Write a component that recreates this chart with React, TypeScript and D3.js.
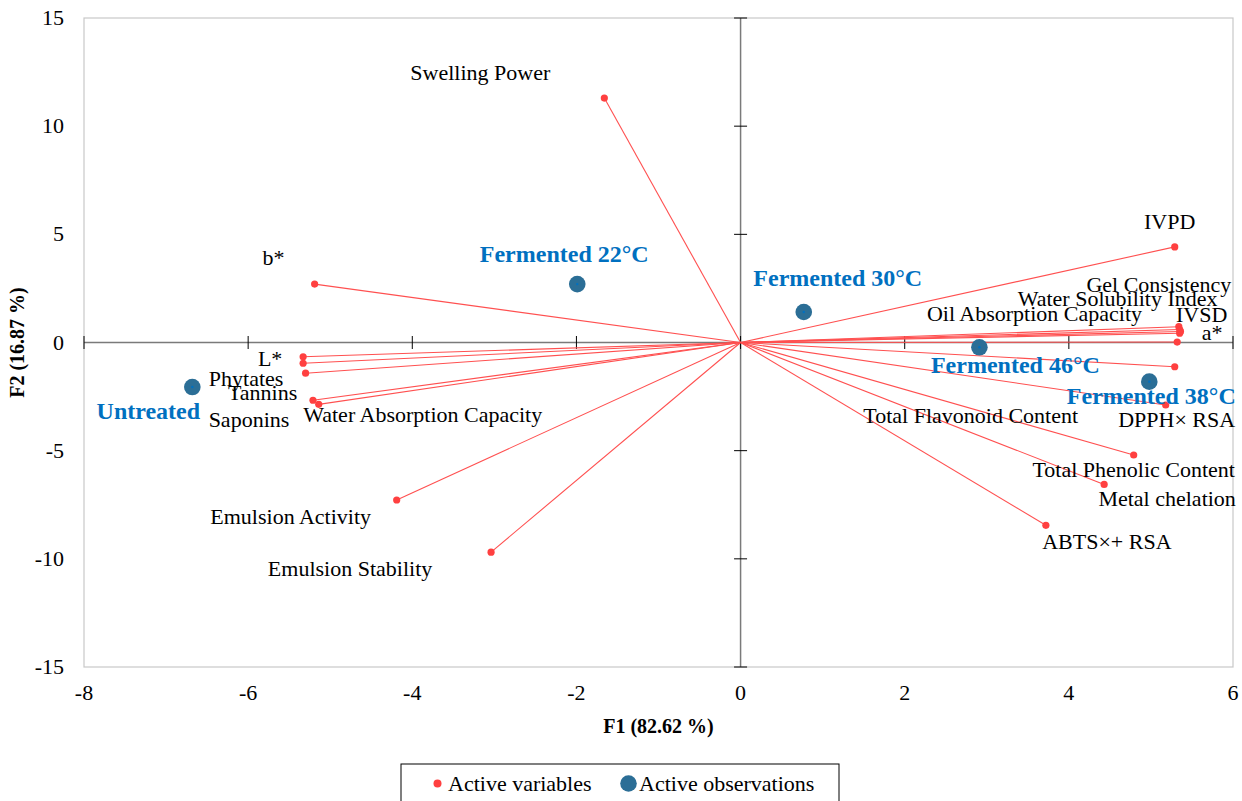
import React from "react";
import * as d3 from "d3";

// Biplot (F1 x F2) of a principal component analysis

const variableNames = [
  "Swelling Power", "b*", "L*", "Phytates", "Tannins", "Saponins",
  "Water Absorption Capacity", "Emulsion Activity", "Emulsion Stability",
  "IVPD", "Gel Consistency", "Water Solubility Index", "Oil Absorption Capacity",
  "IVSD", "a*", "Total Flavonoid Content", "DPPH× RSA", "Total Phenolic Content",
  "Metal chelation", "ABTS×+ RSA",
];
const variableF1 = [
  -1.66, -5.19, -5.33, -5.33, -5.30, -5.21,
  -5.14, -4.19, -3.04,
  5.29, 5.34, 5.35, 5.36,
  5.35, 5.32, 5.29, 5.18, 4.79,
  4.43, 3.72,
];
const variableF2 = [
  11.30, 2.70, -0.66, -0.96, -1.42, -2.67,
  -2.86, -7.28, -9.69,
  4.42, 0.73, 0.60, 0.51,
  0.43, 0.02, -1.12, -2.89, -5.20,
  -6.56, -8.45,
];

const observationNames = [
  "Untreated", "Fermented 22°C", "Fermented 30°C", "Fermented 46°C", "Fermented 38°C",
];
const observationF1 = [-6.68, -1.99, 0.77, 2.91, 4.98];
const observationF2 = [-2.06, 2.70, 1.41, -0.22, -1.81];

const xTicks = [-8, -6, -4, -2, 0, 2, 4, 6];
const yTicks = [-15, -10, -5, 0, 5, 10, 15];

// label placement relative to each mark, in pixels [dx, dy]
const variableLabelOffsets: [number, number][] = [
  [-124, -18], [-41, -19], [-33, 9], [-57, 23], [-43, 27], [-64, 27],
  [104, 18], [-106, 24], [-141, 24],
  [-5, -18], [-20, -35], [-62, -24], [-146, -10],
  [22, -11], [35, -2], [-204, 56], [11, 22], [0, 22],
  [63, 22], [61, 24],
];
const observationLabelOffsets: [number, number][] = [
  [-44, 32], [-13, -22], [34, -26], [36, 26], [2, 22],
];

const W = 1242;
const H = 801;
const left = 84;
const right = 1233;
const top = 18;
const bottom = 667;

const FONT = "'Liberation Serif', 'Times New Roman', serif";
const LINE_RED = "#FF5050";
const DOT_RED = "#FF4040";
const OBS_FILL = "#2B6E96";
const OBS_TEXT = "#0070C0";

export default function App() {
  const x = d3.scaleLinear().domain([-8, 6]).range([left, right]);
  const y = d3.scaleLinear().domain([-15, 15]).range([bottom, top]);
  const x0 = x(0);
  const y0 = y(0);

  return (
    <svg
      width={W}
      height={H}
      style={{ position: "absolute", left: 0, top: 0, background: "#fff" }}
      fontFamily={FONT}
    >
      {/* plot frame */}
      <rect x={left} y={top} width={right - left} height={bottom - top}
        fill="none" stroke="#C8C8C8" strokeWidth={1.2} />

      {/* axes through the origin */}
      <line x1={x0} x2={x0} y1={top} y2={bottom} stroke="#7A7A7A" strokeWidth={1.5} />
      <line x1={left} x2={right} y1={y0} y2={y0} stroke="#7A7A7A" strokeWidth={1.5} />
      {yTicks.map((t) => (
        <line key={"yt" + t} x1={x0 - 6.5} x2={x0 + 6.5} y1={y(t)} y2={y(t)}
          stroke="#000" strokeWidth={1} />
      ))}
      {xTicks.map((t) => (
        <line key={"xt" + t} x1={x(t)} x2={x(t)} y1={y0 - 6.5} y2={y0 + 6.5}
          stroke="#000" strokeWidth={1} />
      ))}

      {/* tick labels */}
      {yTicks.map((t) => (
        <text key={"yl" + t} x={left - 20} y={y(t) + 7} textAnchor="end"
          fontSize={22} fill="#000">{t}</text>
      ))}
      {xTicks.map((t) => (
        <text key={"xl" + t} x={x(t)} y={700} textAnchor="middle"
          fontSize={22} fill="#000">{t}</text>
      ))}

      {/* axis titles */}
      <text x={(left + right) / 2} y={733} textAnchor="middle" fontSize={20}
        fontWeight="bold" fill="#000">F1 (82.62 %)</text>
      <text transform={`translate(24, ${(top + bottom) / 2}) rotate(-90)`}
        textAnchor="middle" fontSize={20} fontWeight="bold" fill="#000">F2 (16.87 %)</text>

      {/* variable vectors */}
      {variableNames.map((n, i) => (
        <line key={"vl" + n} x1={x0} y1={y0} x2={x(variableF1[i])} y2={y(variableF2[i])}
          stroke={LINE_RED} strokeWidth={1.1} />
      ))}
      {variableNames.map((n, i) => (
        <circle key={"vc" + n} cx={x(variableF1[i])} cy={y(variableF2[i])} r={3.6}
          fill={DOT_RED} />
      ))}

      {/* observations */}
      {observationNames.map((n, i) => (
        <g key={"ob" + n}>
          <circle cx={x(observationF1[i])} cy={y(observationF2[i])} r={8.3} fill={OBS_FILL} />
          <circle cx={x(observationF1[i])} cy={y(observationF2[i])} r={1.2} fill={OBS_TEXT} />
        </g>
      ))}

      {/* variable labels */}
      {variableNames.map((n, i) => (
        <text key={"vt" + n}
          x={x(variableF1[i]) + variableLabelOffsets[i][0]}
          y={y(variableF2[i]) + variableLabelOffsets[i][1]}
          textAnchor="middle" fontSize={22} fill="#000">{n}</text>
      ))}

      {/* observation labels */}
      {observationNames.map((n, i) => (
        <text key={"ot" + n}
          x={x(observationF1[i]) + observationLabelOffsets[i][0]}
          y={y(observationF2[i]) + observationLabelOffsets[i][1]}
          textAnchor="middle" fontSize={24} fontWeight="bold" fill={OBS_TEXT}>{n}</text>
      ))}

      {/* legend */}
      <rect x={401} y={764} width={438} height={45} fill="#fff" stroke="#000" strokeWidth={1} />
      <circle cx={437.5} cy={783.5} r={4} fill={DOT_RED} />
      <text x={448} y={790.5} fontSize={22} fill="#000">Active variables</text>
      <circle cx={628.5} cy={783.5} r={8.3} fill={OBS_FILL} />
      <text x={639} y={790.5} fontSize={22} fill="#000">Active observations</text>
    </svg>
  );
}
